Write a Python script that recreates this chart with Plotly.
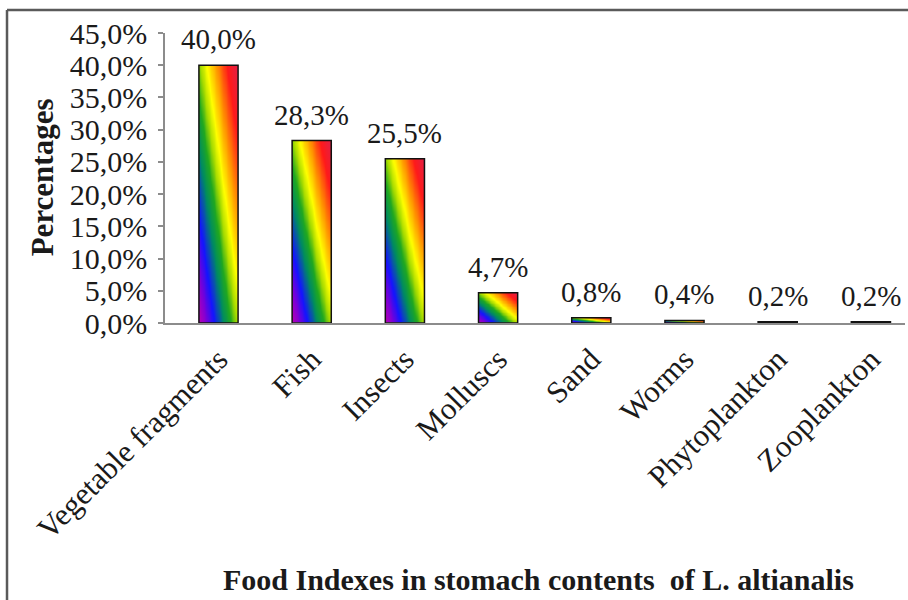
import numpy as np
import plotly.graph_objects as go

# Food items found in stomach contents (% of food index)
categories = ["Vegetable fragments", "Fish", "Insects", "Molluscs",
              "Sand", "Worms", "Phytoplankton", "Zooplankton"]
percentages = [40.0, 28.3, 25.5, 4.7, 0.8, 0.4, 0.2, 0.2]
y_ticks = [0, 5, 10, 15, 20, 25, 30, 35, 40, 45]


def pct(v):
    return f"{v:.1f}%".replace(".", ",")


SERIF = "Liberation Serif, Times New Roman, serif"
INK = "#1a1a1a"
BAR_W = 0.42

# rainbow fill running diagonally across each bar
rainbow = [
    [0.00, "#c000b0"], [0.10, "#7a00d8"], [0.20, "#1414ff"],
    [0.33, "#008c60"], [0.42, "#20a820"], [0.50, "#a8dc00"],
    [0.58, "#ffff00"], [0.71, "#ff9400"], [0.85, "#ff1a1a"],
    [1.00, "#e0204a"],
]

fig = go.Figure()

NX, NY = 16, 40
for i, v in enumerate(percentages):
    xe = np.linspace(i - BAR_W / 2, i + BAR_W / 2, NX + 1)
    ye = np.linspace(0, v, NY + 1)
    u = (np.arange(NX) + 0.5) / NX
    w = (np.arange(NY) + 0.5) / NY
    z = 0.52 * u[None, :] + 0.48 * w[:, None]
    fig.add_trace(go.Heatmap(
        x=xe, y=ye, z=z, zmin=0, zmax=1, colorscale=rainbow,
        zsmooth="best", showscale=False, hoverinfo="skip",
    ))

# bar outlines on top of the gradient
fig.add_trace(go.Bar(
    x=list(range(len(categories))), y=percentages, width=BAR_W,
    marker=dict(color="rgba(0,0,0,0)", line=dict(color="#111111", width=1.5)),
    hoverinfo="skip", showlegend=False,
))

# value labels above the bars
for i, v in enumerate(percentages):
    fig.add_annotation(
        x=i, y=v, xref="x", yref="y", text=pct(v),
        showarrow=False, yanchor="bottom", yshift=8,
        font=dict(family=SERIF, size=29, color=INK),
    )

# axis titles
fig.add_annotation(
    x=-0.165, y=0.502, xref="paper", yref="paper", text="<b>Percentages</b>",
    textangle=-90, showarrow=False, xanchor="center", yanchor="middle",
    font=dict(family=SERIF, size=31, color=INK),
)
fig.add_annotation(
    x=0.505, y=-0.885, xref="paper", yref="paper",
    text="<b>Food Indexes in stomach contents\u00a0 of L. altianalis</b>",
    showarrow=False, xanchor="center", yanchor="middle",
    font=dict(family=SERIF, size=30, color=INK),
)

# outer frame (left and top edges)
frame = dict(color="#5a5a5a", width=2.5)
fig.add_shape(type="line", xref="paper", yref="paper",
              x0=-0.2135, x1=-0.2135, y0=1.0793, y1=-0.96, line=frame)
fig.add_shape(type="line", xref="paper", yref="paper",
              x0=-0.2135, x1=1.01, y0=1.0793, y1=1.0793, line=frame)

fig.update_layout(
    width=908, height=600,
    margin=dict(l=165, r=3, t=33, b=277),
    plot_bgcolor="white", paper_bgcolor="white",
    showlegend=False,
    font=dict(family=SERIF, color=INK),
    xaxis=dict(
        range=[-0.574, 7.366],
        tickmode="array", tickvals=list(range(len(categories))),
        ticktext=categories, tickangle=-45,
        tickfont=dict(family=SERIF, size=31, color=INK),
        ticklabelstandoff=4,
        showgrid=False, zeroline=False,
        showline=True, linecolor="#8c8c8c", linewidth=1.5,
        ticks="",
    ),
    yaxis=dict(
        range=[0, 45], tickmode="array", tickvals=y_ticks,
        ticktext=[pct(t) for t in y_ticks],
        tickfont=dict(family=SERIF, size=30, color=INK),
        ticklabelstandoff=5,
        showgrid=False, zeroline=False,
        showline=True, linecolor="#8c8c8c", linewidth=1.5,
        ticks="outside", ticklen=5, tickcolor="#8c8c8c", tickwidth=1.5,
    ),
)

fig.write_html("out.html")
